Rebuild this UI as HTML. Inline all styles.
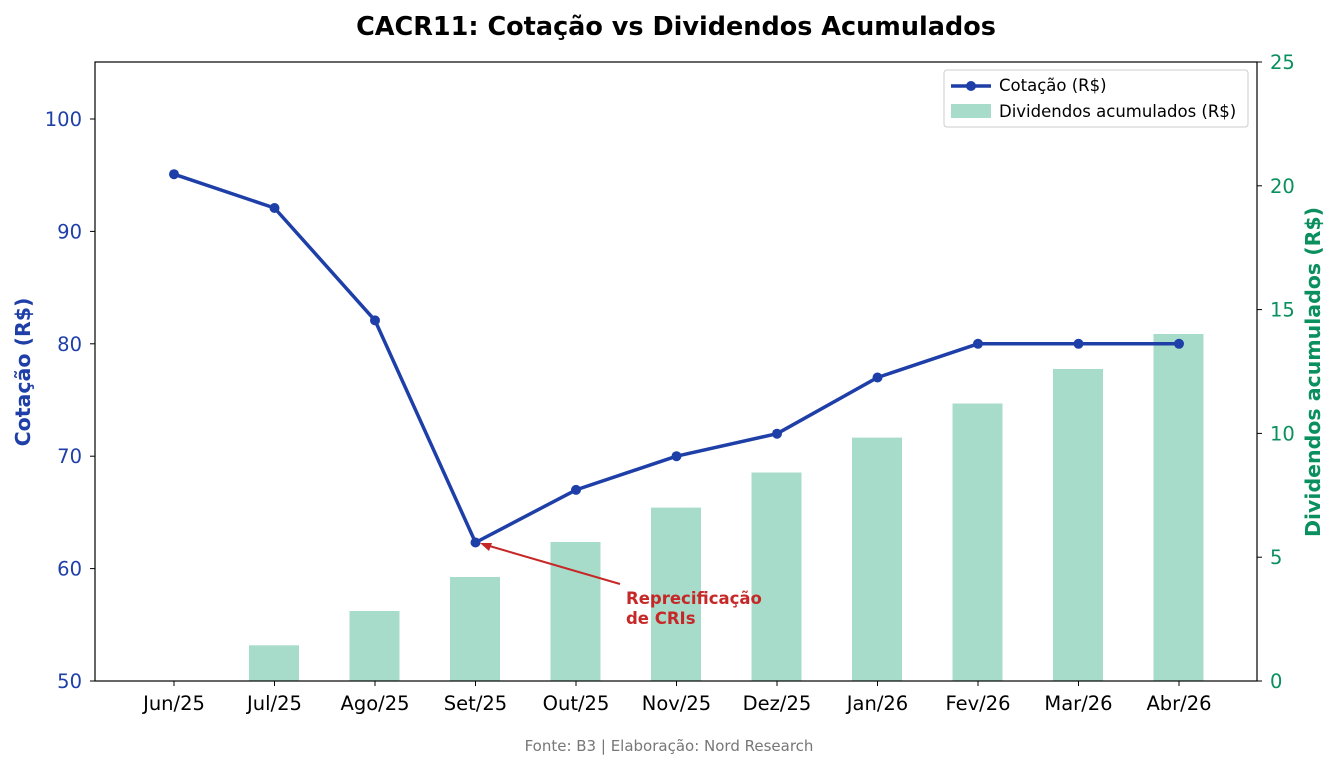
<!DOCTYPE html>
<html><head><meta charset="utf-8"><style>
body{margin:0;background:#fff;}
svg{display:block;font-family:"DejaVu Sans","Liberation Sans",sans-serif;}
</style></head><body>
<svg width="1338" height="768" viewBox="0 0 1338 768" xmlns="http://www.w3.org/2000/svg">
<rect width="1338" height="768" fill="#fff"/>
<text x="676" y="35" text-anchor="middle" font-size="25.5" font-weight="bold" fill="#000">CACR11: Cotação vs Dividendos Acumulados</text>
<g fill="#a8dcca">
<rect x="249" y="645.3" width="50" height="35.7"/>
<rect x="349.5" y="611" width="50" height="70"/>
<rect x="450" y="577" width="50" height="104"/>
<rect x="550.5" y="542" width="50" height="139"/>
<rect x="651" y="507.6" width="50" height="173.4"/>
<rect x="751.5" y="472.5" width="50" height="208.5"/>
<rect x="852" y="437.6" width="50" height="243.4"/>
<rect x="952.5" y="403.5" width="50" height="277.5"/>
<rect x="1053" y="369" width="50" height="312"/>
<rect x="1153.5" y="334" width="50" height="347"/>
</g>
<polyline fill="none" stroke="#1f3fa8" stroke-width="3.5" stroke-linejoin="round" points="174,174.2 274.5,208 375,320.4 475.5,542.5 576,489.9 676.5,456.2 777,433.7 877.5,377.5 978,343.8 1078.5,343.8 1179,343.8"/>
<g fill="#1f3fa8">
<circle cx="174" cy="174.2" r="5"/><circle cx="274.5" cy="208" r="5"/><circle cx="375" cy="320.4" r="5"/><circle cx="475.5" cy="542.5" r="5"/><circle cx="576" cy="489.9" r="5"/><circle cx="676.5" cy="456.2" r="5"/><circle cx="777" cy="433.7" r="5"/><circle cx="877.5" cy="377.5" r="5"/><circle cx="978" cy="343.8" r="5"/><circle cx="1078.5" cy="343.8" r="5"/><circle cx="1179" cy="343.8" r="5"/>
</g>
<line x1="620" y1="584" x2="486" y2="545" stroke="#c62828" stroke-width="2"/>
<polygon points="480,543 492,543 489,551" fill="#c62828"/>
<text x="626" y="604" font-size="16.5" font-weight="bold" fill="#c62828">Reprecificação</text>
<text x="626" y="624" font-size="16.5" font-weight="bold" fill="#c62828">de CRIs</text>
<rect x="95" y="62" width="1162" height="619" fill="none" stroke="#000" stroke-width="1.2"/>
<g font-size="19.5" fill="#1f3fa8" text-anchor="end">
<line x1="90" y1="681" x2="95" y2="681" stroke="#000"/><text x="82" y="688">50</text>
<line x1="90" y1="568.6" x2="95" y2="568.6" stroke="#000"/><text x="82" y="575.6">60</text>
<line x1="90" y1="456.2" x2="95" y2="456.2" stroke="#000"/><text x="82" y="463.2">70</text>
<line x1="90" y1="343.8" x2="95" y2="343.8" stroke="#000"/><text x="82" y="350.8">80</text>
<line x1="90" y1="231.4" x2="95" y2="231.4" stroke="#000"/><text x="82" y="238.4">90</text>
<line x1="90" y1="119" x2="95" y2="119" stroke="#000"/><text x="82" y="126">100</text>
</g>
<g font-size="19.5" fill="#0a8f5e">
<line x1="1257" y1="681" x2="1262" y2="681" stroke="#000"/><text x="1270" y="688">0</text>
<line x1="1257" y1="557.2" x2="1262" y2="557.2" stroke="#000"/><text x="1270" y="564.2">5</text>
<line x1="1257" y1="433.4" x2="1262" y2="433.4" stroke="#000"/><text x="1270" y="440.4">10</text>
<line x1="1257" y1="309.6" x2="1262" y2="309.6" stroke="#000"/><text x="1270" y="316.6">15</text>
<line x1="1257" y1="185.8" x2="1262" y2="185.8" stroke="#000"/><text x="1270" y="192.8">20</text>
<line x1="1257" y1="62" x2="1262" y2="62" stroke="#000"/><text x="1270" y="69">25</text>
</g>
<g font-size="19.5" fill="#000" text-anchor="middle">
<g stroke="#000"><line x1="174" y1="681" x2="174" y2="686"/><line x1="274.5" y1="681" x2="274.5" y2="686"/><line x1="375" y1="681" x2="375" y2="686"/><line x1="475.5" y1="681" x2="475.5" y2="686"/><line x1="576" y1="681" x2="576" y2="686"/><line x1="676.5" y1="681" x2="676.5" y2="686"/><line x1="777" y1="681" x2="777" y2="686"/><line x1="877.5" y1="681" x2="877.5" y2="686"/><line x1="978" y1="681" x2="978" y2="686"/><line x1="1078.5" y1="681" x2="1078.5" y2="686"/><line x1="1179" y1="681" x2="1179" y2="686"/></g>
<text x="174" y="710">Jun/25</text><text x="274.5" y="710">Jul/25</text><text x="375" y="710">Ago/25</text><text x="475.5" y="710">Set/25</text><text x="576" y="710">Out/25</text><text x="676.5" y="710">Nov/25</text><text x="777" y="710">Dez/25</text><text x="877.5" y="710">Jan/26</text><text x="978" y="710">Fev/26</text><text x="1078.5" y="710">Mar/26</text><text x="1179" y="710">Abr/26</text>
</g>
<text transform="translate(30,372) rotate(-90)" text-anchor="middle" font-size="20.5" font-weight="bold" fill="#1f3fa8">Cotação (R$)</text>
<text transform="translate(1320,372) rotate(-90)" text-anchor="middle" font-size="20.5" font-weight="bold" fill="#0a8f5e">Dividendos acumulados (R$)</text>
<rect x="944" y="70" width="304" height="57" rx="3" fill="#fff" fill-opacity="0.85" stroke="#ccc"/>
<line x1="951" y1="86" x2="991" y2="86" stroke="#1f3fa8" stroke-width="3.5"/>
<circle cx="971" cy="86" r="5" fill="#1f3fa8"/>
<text x="999" y="91" font-size="16.5" fill="#000">Cotação (R$)</text>
<rect x="951" y="104" width="40" height="14" fill="#a8dcca"/>
<text x="999" y="117" font-size="16.5" fill="#000">Dividendos acumulados (R$)</text>
<text x="669" y="751" text-anchor="middle" font-size="15" fill="#777">Fonte: B3 | Elaboração: Nord Research</text>
</svg>
</body></html>
